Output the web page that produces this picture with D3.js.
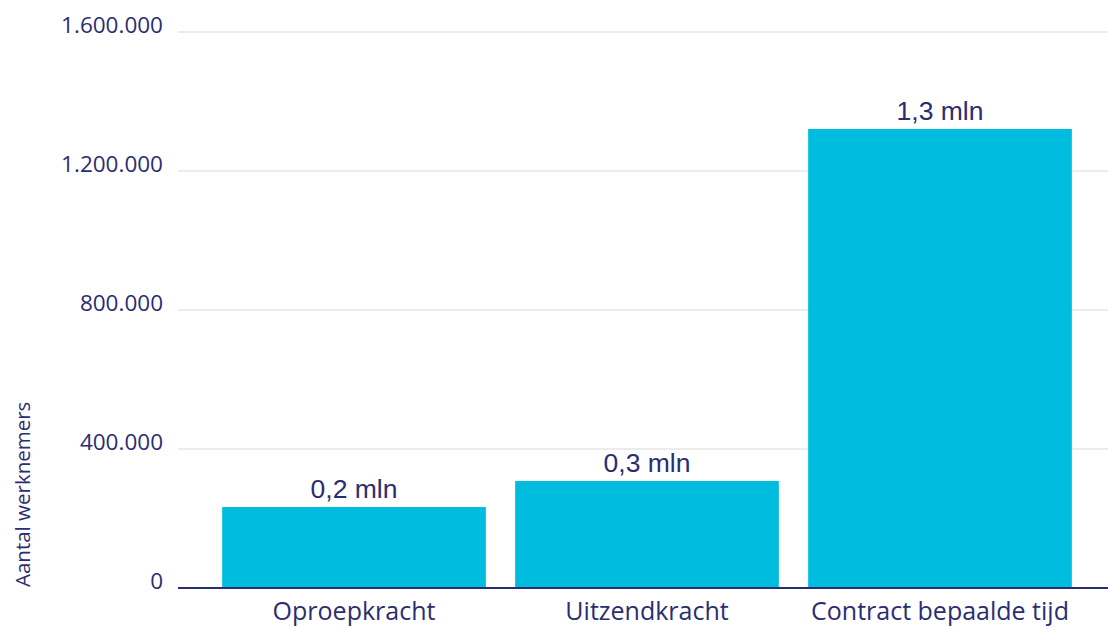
<!DOCTYPE html>
<html>
<head>
<meta charset="utf-8">
<script src="https://cdn.jsdelivr.net/npm/d3@7"></script>
<style>
  body { margin: 0; background: #fff; }
  svg text { fill: #2b2d72; }
</style>
</head>
<body>
<div id="chart"></div>
<script>
"use strict";
// data
const categories = ["Oproepkracht", "Uitzendkracht", "Contract bepaalde tijd"];
const values = [233000, 308000, 1321000];
const valueLabels = ["0,2 mln", "0,3 mln", "1,3 mln"];
const yTicks = [0, 400000, 800000, 1200000, 1600000];
const yTitle = "Aantal werknemers";

const width = 1108, height = 628;
const svg = d3.select("#chart").append("svg").attr("width", width).attr("height", height);

const y = d3.scaleLinear().domain([0, 1600000]).range([588, 32]);
const x = d3.scaleBand().domain(categories).range([207.5, 1086.5]).paddingInner(0.1).paddingOuter(0.05);

const fmt = d3.formatLocale({ decimal: ",", thousands: ".", grouping: [3], currency: ["€", ""] }).format(",");

// gridlines
svg.append("g").selectAll("line").data(yTicks.slice(1)).enter().append("line")
  .attr("x1", 178).attr("x2", width)
  .attr("y1", d => y(d)).attr("y2", d => y(d))
  .attr("stroke", "#d9d9d9").attr("stroke-width", 1);

// y tick labels
svg.append("g").selectAll("text").data(yTicks).enter().append("text")
  .attr("x", 163).attr("y", d => y(d) + 0.5)
  .attr("text-anchor", "end")
  .style("font-family", "'Open Sans', sans-serif").style("font-size", "22.5px")
  .text(d => fmt(d));

// y title
svg.append("text")
  .attr("transform", "translate(30,587) rotate(-90)")
  .attr("text-anchor", "start")
  .style("font-family", "'Open Sans', sans-serif").style("font-size", "20.5px")
  .text(yTitle);

// bars
svg.append("g").selectAll("rect").data(values).enter().append("rect")
  .attr("x", (d, i) => x(categories[i]))
  .attr("width", x.bandwidth())
  .attr("y", d => y(d))
  .attr("height", d => y(0) - y(d))
  .attr("fill", "#00bde0");

// value labels
svg.append("g").selectAll("text").data(values).enter().append("text")
  .attr("x", (d, i) => x(categories[i]) + x.bandwidth() / 2)
  .attr("y", d => y(d) - 9)
  .attr("text-anchor", "middle")
  .style("font-family", "'Liberation Sans', Arial, sans-serif").style("font-size", "26.5px")
  .text((d, i) => valueLabels[i]);

// baseline
svg.append("line").attr("x1", 178).attr("x2", width)
  .attr("y1", y(0)).attr("y2", y(0))
  .attr("stroke", "#2b2d72").attr("stroke-width", 2);

// category labels
svg.append("g").selectAll("text").data(categories).enter().append("text")
  .attr("x", d => x(d) + x.bandwidth() / 2)
  .attr("y", 620)
  .attr("text-anchor", "middle")
  .style("font-family", "'Open Sans', sans-serif").style("font-size", "25px")
  .text(d => d);
</script>
</body>
</html>
